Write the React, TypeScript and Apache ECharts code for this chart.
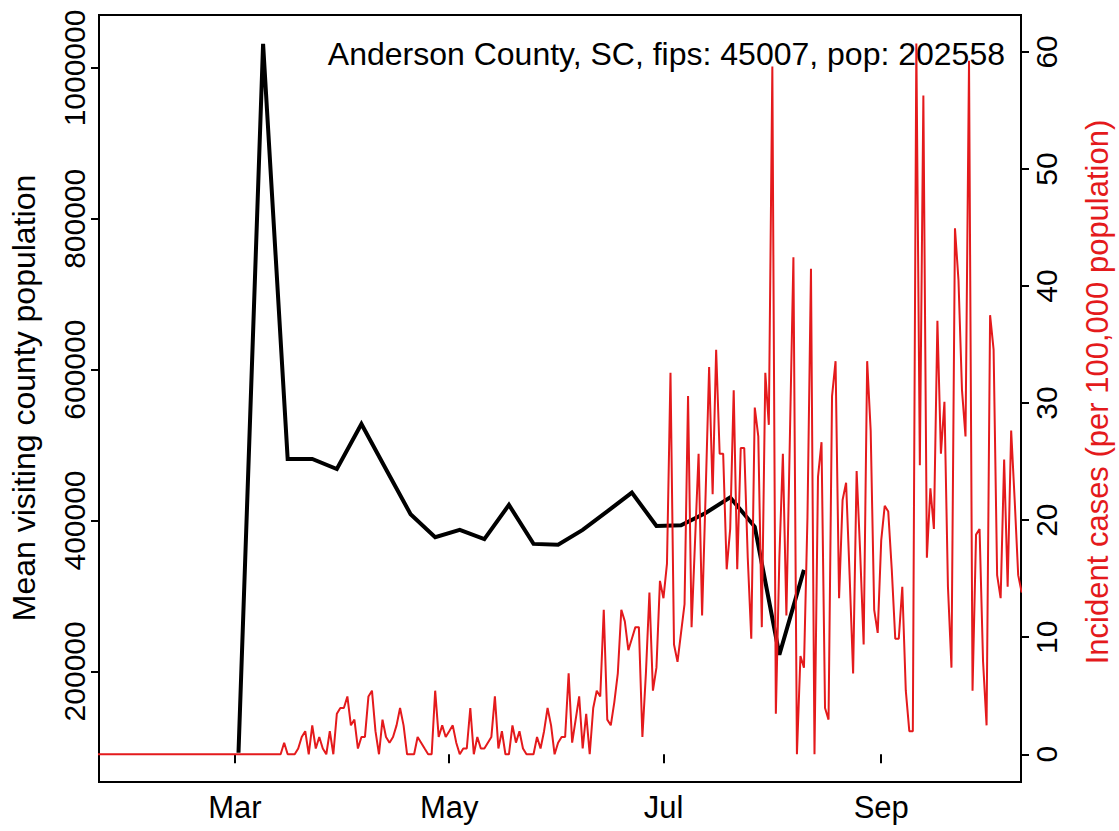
import { useEffect, useRef } from "react";
import * as echarts from "echarts";

// ---------- data ----------
const AXIS_START = "2020-01-22";
const monthTickDates = ["2020-03-01", "2020-05-01", "2020-07-01", "2020-09-01"];
const monthTickLabels = ["Mar", "May", "Jul", "Sep"];

const leftTicks = [200000, 400000, 600000, 800000, 1000000];
const rightTicks = [0, 10, 20, 30, 40, 50, 60];

const visitDates = [
  "2020-03-02", "2020-03-09", "2020-03-16", "2020-03-23", "2020-03-30", "2020-04-06",
  "2020-04-13", "2020-04-20", "2020-04-27", "2020-05-04", "2020-05-11", "2020-05-18",
  "2020-05-25", "2020-06-01", "2020-06-08", "2020-06-15", "2020-06-22", "2020-06-29",
  "2020-07-06", "2020-07-13", "2020-07-20", "2020-07-27", "2020-08-03", "2020-08-10",
];
const visitValues = [
  92000, 1032000, 481600, 481600, 468300, 527900,
  468000, 408300, 377900, 387500, 375200, 420700,
  369000, 368000, 387500, 412000, 437000, 392800,
  393800, 410000, 430600, 391600, 222000, 334600,
];

const caseStart = "2020-01-22";
const caseValues = [
  // Jan 22 - Mar 14
  0, 0, 0, 0, 0, 0, 0, 0, 0, 0, 0, 0, 0, 0, 0, 0, 0, 0, 0, 0,
  0, 0, 0, 0, 0, 0, 0, 0, 0, 0, 0, 0, 0, 0, 0, 0, 0, 0, 0, 0,
  0, 0, 0, 0, 0, 0, 0, 0, 0, 0, 0, 0, 0,
  // from Mar 15
  0.99, 0, 0, 0, 0.49, 1.48, 1.97, 0, 2.47, 0.49,
  1.48, 0.49, 0, 1.97, 0, 3.46, 3.95, 3.95, 4.94, 2.47,
  2.96, 0.49, 1.48, 1.48, 4.94, 5.43, 1.97, 0, 2.96, 1.48,
  0.99, 1.48, 2.47, 3.95, 2.47, 0, 0, 0, 1.48, 0.99,
  0.49, 0, 0, 5.43, 1.48, 2.47, 1.48, 1.97, 2.47, 0.99,
  0, 0.49, 0.49, 3.95, 0, 1.48, 0.49, 0.49, 0.99, 1.48,
  4.94, 0.49, 1.97, 0, 0, 2.47, 0.99, 1.97, 0.49, 0,
  0, 0, 1.48, 0.49, 1.97, 3.95, 2.47, 0, 0.99, 1.48,
  1.48, 6.91, 0.99, 2.96, 4.94, 0.49, 3.46, 0, 3.95, 5.43,
  4.94, 12.34, 2.96, 2.47, 4.44, 6.91, 12.34, 11.35, 8.89, 9.87,
  10.86, 10.86, 1.48, 6.91, 13.82, 5.43, 7.4, 14.81, 13.33, 16.29,
  32.58, 9.38, 7.9, 10.37, 12.83, 30.6, 10.86, 18.27, 25.67, 11.85,
  22.21, 33.08, 22.21, 34.56, 25.67, 25.67, 15.8, 19.25, 31.1, 15.8,
  26.16, 26.16, 16.78, 9.87, 29.62, 27.15, 10.86, 32.58, 28.14, 58.74,
  3.46, 16.78, 25.67, 11.85, 27.15, 42.46, 0, 8.39, 7.4, 20.24,
  41.47, 0, 23.69, 26.66, 3.95, 2.96, 30.6, 33.58, 13.33, 21.72,
  23.2, 15.3, 6.91, 24.19, 17.28, 9.38, 33.58, 27.65, 12.34, 10.37,
  18.27, 21.23, 20.73, 15.8, 9.87, 9.87, 14.31, 5.43, 1.97, 1.97,
  60.72, 24.68, 56.28, 16.78, 22.71, 19.25, 37.02, 25.67, 30.11, 14.31,
  7.4, 44.93, 40.49, 31.1, 27.15, 59.24, 5.43, 18.76, 19.25, 7.9,
  2.47, 37.51, 34.56, 15.3, 13.33, 25.18, 14.31, 27.65, 21.72, 15.3,
  13.82,
];

const titleText = "Anderson County, SC, fips: 45007, pop: 202558";
const leftName = "Mean visiting county population";
const rightName = "Incident cases (per 100,000 population)";

// ---------- helpers ----------
const DAY = 86400000;
const dayOf = (iso: string) =>
  (Date.parse(iso + "T00:00:00Z") - Date.parse(AXIS_START + "T00:00:00Z")) / DAY;

const FONT = "'Liberation Sans', Arial, Helvetica, sans-serif";
const RED = "#e41a1c";

export default function App() {
  const ref = useRef<HTMLDivElement>(null);

  useEffect(() => {
    if (!ref.current) return;
    const chart = echarts.init(ref.current, null, { renderer: "svg" });

    const monthVals = monthTickDates.map(dayOf);
    const visitData = visitDates.map((d, i) => [dayOf(d), visitValues[i]]);
    const caseOffset = dayOf(caseStart);
    const caseData = caseValues.map((v, i) => [caseOffset + i, v]);

    chart.setOption({
      animation: false,
      backgroundColor: "#fff",
      grid: {
        left: 99,
        right: 98,
        top: 15,
        bottom: 49,
        show: true,
        borderColor: "#000",
        borderWidth: 2,
        backgroundColor: "transparent",
      },
      xAxis: {
        type: "value",
        min: 0.28,
        max: 262.8,
        axisLine: { show: false },
        splitLine: { show: false },
        axisTick: {
          show: true,
          customValues: monthVals,
          length: 9,
          lineStyle: { color: "#000", width: 2 },
        },
        axisLabel: {
          customValues: monthVals,
          color: "#000",
          fontSize: 31,
          fontFamily: FONT,
          margin: 10,
          formatter: (v: number) => {
            const idx = monthVals.findIndex((m) => Math.abs(m - v) < 0.01);
            return idx >= 0 ? monthTickLabels[idx] : "";
          },
        },
      },
      yAxis: [
        {
          type: "value",
          position: "left",
          min: 53280,
          max: 1070245,
          axisLine: { show: false },
          splitLine: { show: false },
          axisTick: {
            show: true,
            customValues: leftTicks,
            length: 8,
            lineStyle: { color: "#000", width: 2 },
          },
          axisLabel: {
            customValues: leftTicks,
            rotate: 90,
            color: "#000",
            fontSize: 30,
            fontFamily: FONT,
            margin: 10,
            formatter: (v: number) => String(v),
          },
        },
        {
          type: "value",
          position: "right",
          min: -2.37,
          max: 63.15,
          axisLine: { show: false },
          splitLine: { show: false },
          axisTick: {
            show: true,
            customValues: rightTicks,
            length: 8,
            lineStyle: { color: "#000", width: 2 },
          },
          axisLabel: {
            customValues: rightTicks,
            rotate: 90,
            color: "#000",
            fontSize: 30,
            fontFamily: FONT,
            margin: 10,
            formatter: (v: number) => String(v),
          },
        },
      ],
      series: [
        {
          type: "line",
          name: "visits",
          yAxisIndex: 0,
          data: visitData,
          showSymbol: false,
          symbol: "none",
          lineStyle: { color: "#000", width: 4, join: "miter" },
          z: 2,
        },
        {
          type: "line",
          name: "cases",
          yAxisIndex: 1,
          data: caseData,
          showSymbol: false,
          symbol: "none",
          lineStyle: { color: RED, width: 2 },
          z: 3,
        },
      ],
      graphic: [
        {
          type: "text",
          x: 1005,
          y: 54,
          style: {
            text: titleText,
            fontSize: 32,
            fontFamily: FONT,
            fill: "#000",
            align: "right",
            verticalAlign: "middle",
          },
        },
        {
          type: "text",
          x: 24,
          y: 398,
          rotation: Math.PI / 2,
          style: {
            text: leftName,
            fontSize: 32,
            fontFamily: FONT,
            fill: "#000",
            align: "center",
            verticalAlign: "middle",
          },
        },
        {
          type: "text",
          x: 1097,
          y: 392,
          rotation: Math.PI / 2,
          style: {
            text: rightName,
            fontSize: 31,
            fontFamily: FONT,
            fill: RED,
            align: "center",
            verticalAlign: "middle",
          },
        },
      ],
    });

    return () => chart.dispose();
  }, []);

  return (
    <div
      ref={ref}
      style={{
        position: "absolute",
        left: 0,
        top: 0,
        width: 1119,
        height: 831,
        background: "#fff",
      }}
    />
  );
}
